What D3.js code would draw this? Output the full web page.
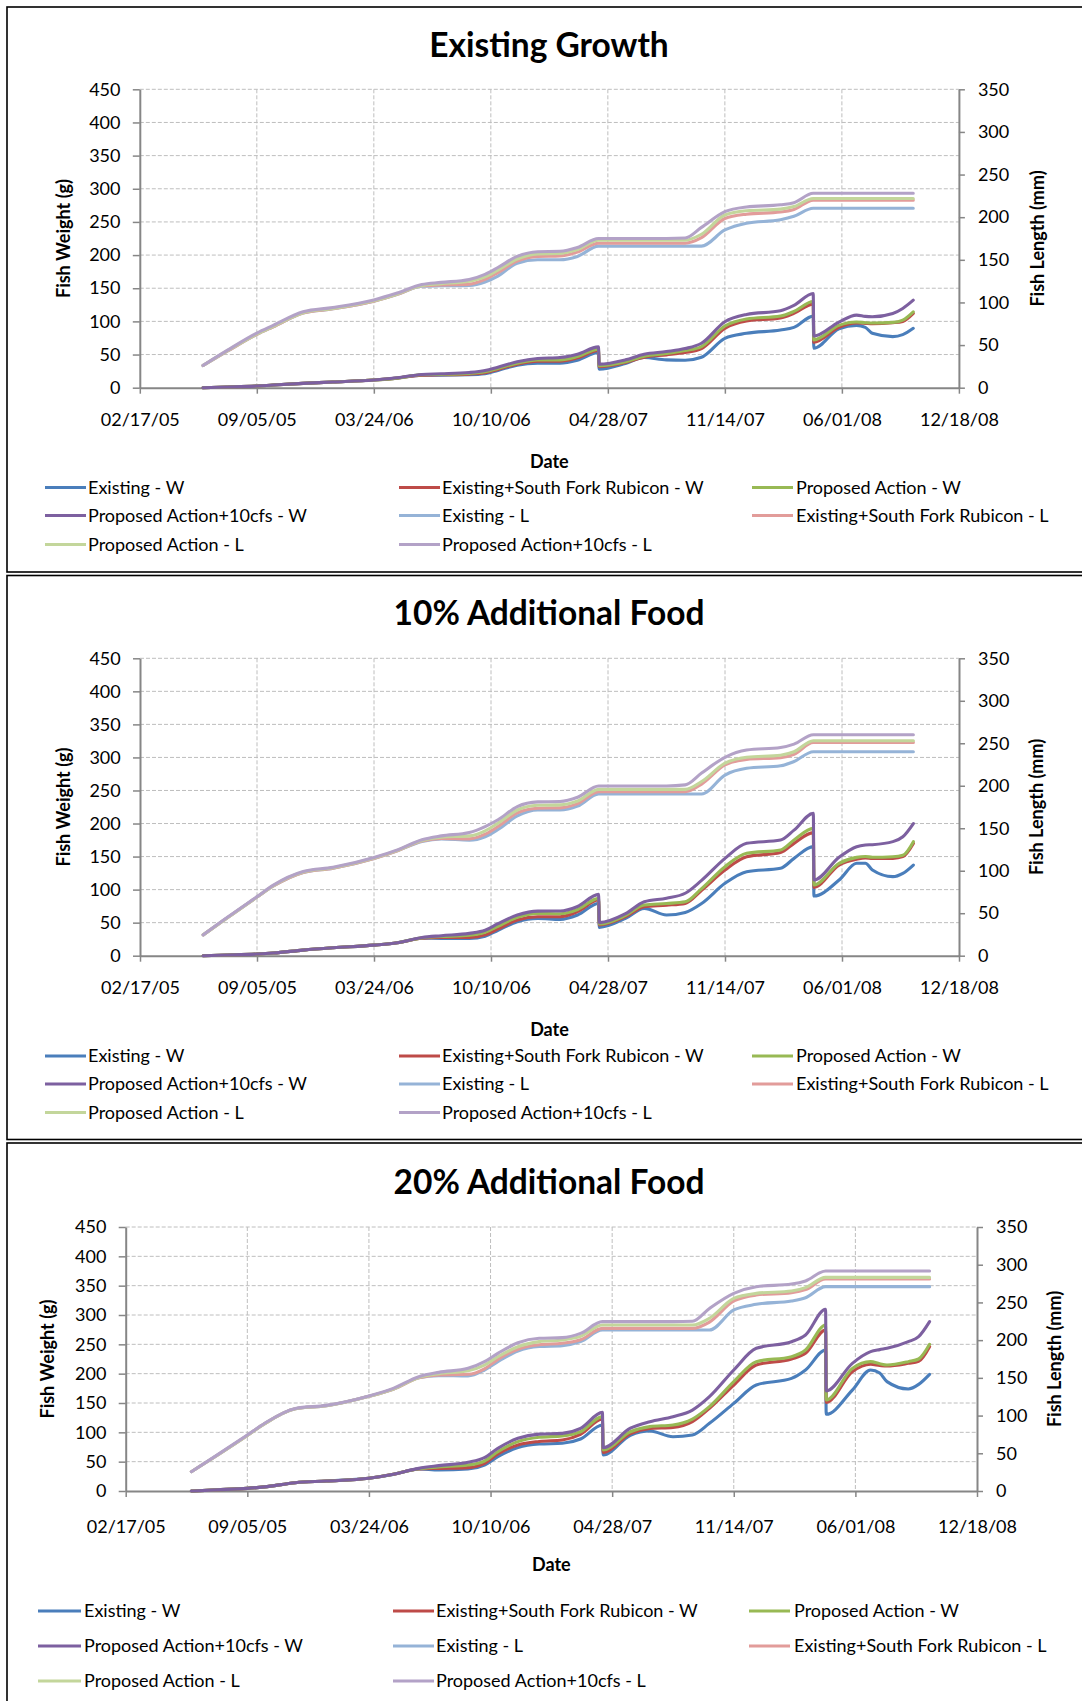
<!DOCTYPE html>
<html><head><meta charset="utf-8">
<script src="https://cdn.jsdelivr.net/npm/d3@7"></script>
<style>
body{margin:0;background:#fff;}
svg{display:block;font-family:Lato,"Open Sans",sans-serif;}
</style>
</head><body>
<svg id="chart" width="1082" height="1701"></svg>
<script>
// ---------------- DATA ----------------
const dates = ["2005-06-05","2005-07-17","2005-09-05","2005-10-03","2005-11-23","2006-01-13","2006-03-24","2006-05-03","2006-06-14","2006-07-17","2006-09-03","2006-09-30","2006-10-22","2006-11-24","2006-12-29","2007-02-05","2007-03-07","2007-04-12","2007-04-13","2007-05-28","2007-06-29","2007-08-06","2007-09-07","2007-10-05","2007-11-14","2007-12-21","2008-02-17","2008-03-11","2008-04-13","2008-04-14","2008-05-27","2008-06-26","2008-07-11","2008-07-23","2008-08-27","2008-09-13","2008-10-01"];

const xTickLabels = ["02/17/05","09/05/05","03/24/06","10/10/06","04/28/07","11/14/07","06/01/08","12/18/08"];
const weightTicks = [0,50,100,150,200,250,300,350,400,450];
const lengthTicks = [0,50,100,150,200,250,300,350];

const panelTitles = ["Existing Growth","10% Additional Food","20% Additional Food"];
const seriesNames = ["Existing - W","Existing+South Fork Rubicon - W","Proposed Action - W","Proposed Action+10cfs - W","Existing - L","Existing+South Fork Rubicon - L","Proposed Action - L","Proposed Action+10cfs - L"];
const seriesColors = ["#4A7EBB","#BE4B48","#98B954","#7D60A0","#95B3D7","#E29C9A","#C3D69B","#B3A2C7"];

// Panel 1: Existing Growth
const growthExistingW = [0,1,2.5,4,6.5,8.5,11.5,14.5,19,19,19.5,21,26,34,37,37,41.5,53,28,36.5,45.5,42,41.5,46,74.5,82,87,91,108,59.5,89,94,91,82,77,80,89.5];
const growthSFRW = [0,1,2.5,4,6.5,8.5,11.5,14.5,19,19.5,20.5,22.5,27.5,35.5,40,40,45,56,31.5,38,46,49.5,53,59,89.5,100.5,105,112,126,68.5,91,97.5,97,96.5,98,100,112];
const growthPAW = [0,1,2.5,4,6.5,8.5,11.5,14.5,19.5,20,21.5,24,29,37,42,42,47,58,33,39,47.5,51.5,56,62,93,103.5,108,115,130,72,94,99,98,97.5,98.5,102,114.5];
const growthPA10W = [0,1,2.5,4,6.5,8.5,11.5,15,20,21,23,26,31,39,44,45.5,50.5,61.5,35.5,42,50.5,54.5,59,67,99.5,110.5,116,124,142,78,99,109.5,107.5,107,112,119.5,132];
const growthExistingL = [26,43,62.5,71.5,87.5,92.5,101.5,109.5,119,119.5,120,124,131,146,150,150,154,166,166,166,166,166,166,166,185,193,197,201,210.5,210.5,210.5,210.5,210.5,210.5,210.5,210.5,210.5];
const growthSFRL = [26,43,62.5,71.5,87.5,92.5,101.5,109.5,119.5,120.5,121.5,127,135,148.5,154,154.5,159,169.5,169.5,169.5,169.5,169.5,169.5,176,198.5,203.5,206,209,220,220,220,220,220,220,220,220,220];
const growthPAL = [26,43.5,63,72,88,93,102,110,120,122,125,130,138,151,157,157.5,162,173,173,173,173,173,173,180,202.5,207.5,209.5,212.5,222,222,222,222,222,222,222,222,222];
const growthPA10L = [26,44,64,73,89,94,103,111,121,123.5,127,133,141,154,159.5,160,164.5,175,175,175,175,175,175.5,188,206.5,212,214.5,217,228,228,228,228,228,228,228,228,228];

// Panel 2: 10% Additional Food
const food10ExistingW = [0,1,2.5,4,8.5,12,16,19.5,26.5,26.2,26.2,29.5,38.5,51.5,56.5,55,61.6,79.2,42.9,56.5,71.6,61.6,65.5,79,109.5,127.1,132.2,147.3,165,90.3,114.5,139.8,140,129.7,119.6,124.6,137.2];
const food10SFRW = [0,1,2.5,4,8.5,12,16,19.5,26.5,27.5,27.7,31.5,40.5,54,59,59,66.6,84.3,46.4,59,74.2,76.5,79.2,99,129.7,149.8,156,170,186.2,103.4,137.2,146,148,147,147.3,150,170];
const food10PAW = [0,1,2.5,4,8.5,12,16,19.7,27,29,31,35.5,44.5,58,64,63.5,70,86.8,47.9,61,76.7,79,81.5,101.5,134.7,154.9,160,175,192.7,107,139.8,148.8,150,149,149.8,152,172.6];
const food10PA10W = [0,1,2.5,4,8.5,12,16,19.7,27.5,30.3,33.8,38.5,48.5,61.5,67.5,67.6,74.5,92.8,50,63.5,81.5,87,94.5,114,147.3,170,175,190,215.4,114.5,149,165,167.5,168,172.6,180,200];
const food10ExistingL = [24.5,45,69,82,98,103,114.5,123.5,134.5,137.5,136,140,148.5,164.5,171.5,171.5,176,190.3,190.3,190.3,190.3,190.3,190.3,190.3,212.6,220.5,223.5,228.5,240,240,240,240,240,240,240,240,240];
const food10SFRL = [24.5,45,69,82,98,103,114.5,123.5,135,138,137.5,143,152,168,173.5,174,179,193,193,193,193,193,193,202,224.5,231,233,237,251,251,251,251,251,251,251,251,251];
const food10PAL = [24.5,45,69,82.5,98.5,103.5,115,124,135.5,139.5,141,147,156,171.5,177,177.5,182,195.8,195.8,195.8,195.8,195.8,195.8,205,226.5,233.5,236,240,253,253,253,253,253,253,253,253,253];
const food10PA10L = [24.5,45.5,69.5,83,99,104,115.5,124.5,136.5,141,145,152,160,175.5,181,181.5,186.5,199.7,199.7,199.7,199.7,199.7,201,215,233.5,242,245,249,260,260,260,260,260,260,260,260,260];

// Panel 3: 20% Additional Food
const food20ExistingW = [0,2,4.5,7,14.2,17,21.6,28,37.5,35.8,37.5,44.3,58.5,73.9,80,81.3,88.6,112.5,61.4,95,102.3,92.6,95.5,115.3,149.4,180.7,192,206.3,240.3,130.7,172,206.3,201,186.4,173.9,181.8,198.9];
const food20SFRW = [0,2,4.5,7,14.2,17,21.6,28.4,37.5,38.5,39.8,47,63,78.4,84.5,87,96.6,122.7,65.9,98,106.8,108.5,118.2,140.9,180.7,214.8,225,234.7,274.4,151,203.4,216,214,213,217.6,221,246];
const food20PAW = [0,2,4.5,7,14.2,17,21.6,28.4,38,41,44.3,51,67,84.1,91.5,93.8,101,126.7,69.9,101,109.7,112.5,122.7,143.8,186.4,220.5,229,240.3,283,155,209,220.5,217,214.8,220.5,225,250];
const food20PA10W = [0,2,4.5,7,14.2,17,21.6,28.4,38.6,43.2,48.9,56.8,72.7,89.8,97,98.3,106.8,134,73.9,107,118.2,126.7,138,160.8,206.3,243.2,254.5,265.9,309.7,170.5,217.6,237.5,241,243.2,254.5,263,288.6];
const food20ExistingL = [25.6,47,73.5,89,109,113,125.5,135,150,153,152.5,160.4,171.5,185.6,191.5,192.7,198,213.4,213.4,213.4,213.4,213.4,213.4,213.4,240,247.5,251.9,256.3,270.9,270.9,270.9,270.9,270.9,270.9,270.9,270.9,270.9];
const food20SFRL = [25.6,47,73.5,89,109,113,125.5,135,150,154,154.7,162,174.5,188,194,195.8,200.5,215.6,215.6,215.6,215.6,215.6,215.6,224,252,259.8,263,267,281,281,281,281,281,281,281,281,281];
const food20PAL = [25.6,47,73.5,89,109,113,125.5,135,150.5,155.5,159.5,167,178,191.3,198,200.2,205,220,220,220,220,220,220,229,255.4,262,265.1,269.6,283.2,283.2,283.2,283.2,283.2,283.2,283.2,283.2,283.2];
const food20PA10L = [25.6,47.5,74.2,89.5,109.5,113.5,126,136,151.6,157.3,162.6,171.5,182.5,196.6,202.5,203.3,209,224.5,224.5,224.5,224.5,224.5,225,242,262,270.9,274.4,278.5,291.6,291.6,291.6,291.6,291.6,291.6,291.6,291.6,291.6];

const panelSeries = [
  [growthExistingW,growthSFRW,growthPAW,growthPA10W,growthExistingL,growthSFRL,growthPAL,growthPA10L],
  [food10ExistingW,food10SFRW,food10PAW,food10PA10W,food10ExistingL,food10SFRL,food10PAL,food10PA10L],
  [food20ExistingW,food20SFRW,food20PAW,food20PA10W,food20ExistingL,food20SFRL,food20PAL,food20PA10L]
];

// ---------------- LAYOUT ----------------
const layouts = [
  {boxTop:7, boxBottom:572, left:139.8, right:958.9, top:89.3, bottom:387.7, titleY:57, tickLabelDy:32.5, dateDy:73.5,
   wTitleX:64, lTitleX:1038, legendRows:[487.5,515.5,544.5], legendCols:[[45,86,88],[399,440,442],[752,793,796]]},
  {boxTop:575.5, boxBottom:1139.5, left:140, right:959, top:658.3, bottom:955.7, titleY:625, tickLabelDy:32.5, dateDy:73.5,
   wTitleX:64, lTitleX:1037, legendRows:[1056,1084,1112.5], legendCols:[[45,86,88],[399,440,442],[752,793,796]]},
  {boxTop:1143, boxBottom:1760, left:125.7, right:977, top:1227, bottom:1491, titleY:1194, tickLabelDy:35.7, dateDy:74,
   wTitleX:48, lTitleX:1055, legendRows:[1611,1646,1681], legendCols:[[38,81,84],[393,434,436],[749,790,794]]}
];

const svg = d3.select("#chart");
const parseDate = d3.timeParse("%Y-%m-%d");
const parseTick = d3.timeParse("%m/%d/%y");
const dateObjs = dates.map(parseDate);
const tickDates = xTickLabels.map(parseTick);
const axisColor = "#868686";
const gridColor = "#BEBEBE";

layouts.forEach((p, pi) => {
  const g = svg.append("g");
  g.append("rect").attr("x",7).attr("y",p.boxTop).attr("width",1200).attr("height",p.boxBottom-p.boxTop)
    .attr("fill","none").attr("stroke","#000").attr("stroke-width",1.6);

  const x = d3.scaleTime().domain([tickDates[0], tickDates[tickDates.length-1]]).range([p.left, p.right]);
  const yW = d3.scaleLinear().domain([0,450]).range([p.bottom, p.top]);
  const yL = d3.scaleLinear().domain([0,350]).range([p.bottom, p.top]);
  const cx = (p.left + p.right)/2;

  // title
  g.append("text").attr("x", 549).attr("y", p.titleY).attr("text-anchor","middle")
    .attr("font-size", 33.5).attr("font-weight","bold").text(panelTitles[pi]);

  // gridlines
  g.append("g").selectAll("line").data(weightTicks.slice(1)).join("line")
    .attr("x1", p.left).attr("x2", p.right).attr("y1", d=>yW(d)).attr("y2", d=>yW(d))
    .attr("stroke", gridColor).attr("stroke-width",1).attr("stroke-dasharray","4,2");
  g.append("g").selectAll("line").data(tickDates.slice(1, -1)).join("line")
    .attr("x1", d=>x(d)).attr("x2", d=>x(d)).attr("y1", p.top).attr("y2", p.bottom)
    .attr("stroke", gridColor).attr("stroke-width",1).attr("stroke-dasharray","4,2");

  // axes
  const styleAxis = sel => {
    sel.select(".domain").attr("stroke", axisColor).attr("stroke-width", 2);
    sel.selectAll(".tick line").attr("stroke", axisColor).attr("stroke-width", 1.5);
    sel.selectAll(".tick text").attr("fill","#000").attr("font-size",18).attr("font-family","Lato, 'Open Sans', sans-serif");
  };
  const axL = g.append("g").attr("transform",`translate(${p.left},0)`)
    .call(d3.axisLeft(yW).tickValues(weightTicks).tickSize(7).tickSizeOuter(0).tickPadding(12.3));
  styleAxis(axL);
  const axR = g.append("g").attr("transform",`translate(${p.right},0)`)
    .call(d3.axisRight(yL).tickValues(lengthTicks).tickSize(6).tickSizeOuter(0).tickPadding(13));
  styleAxis(axR);
  const axB = g.append("g").attr("transform",`translate(0,${p.bottom})`)
    .call(d3.axisBottom(x).tickValues(tickDates).tickFormat(d3.timeFormat("%m/%d/%y")).tickSize(6).tickSizeOuter(0));
  styleAxis(axB);
  axB.selectAll(".tick text").attr("y", p.tickLabelDy).attr("dy","0.35em");

  // axis titles
  g.append("text").attr("x", cx).attr("y", p.bottom + p.dateDy).attr("dy","0.35em").attr("text-anchor","middle")
    .attr("font-size",18).attr("font-weight","bold").text("Date");
  const cy = (p.top + p.bottom)/2;
  g.append("text").attr("transform",`translate(${p.wTitleX},${cy}) rotate(-90)`).attr("dy","0.35em")
    .attr("text-anchor","middle").attr("font-size",18).attr("font-weight","bold").text("Fish Weight (g)");
  g.append("text").attr("transform",`translate(${p.lTitleX},${cy}) rotate(-90)`).attr("dy","0.35em")
    .attr("text-anchor","middle").attr("font-size",18).attr("font-weight","bold").text("Fish Length (mm)");

  // series
  const series = panelSeries[pi];
  series.forEach((vals, si) => {
    const y = si < 4 ? yW : yL;
    const line = d3.line().x((d,i)=>x(dateObjs[i])).y(d=>y(d)).curve(d3.curveMonotoneX);
    g.append("path").attr("d", line(vals)).attr("fill","none").attr("stroke", seriesColors[si])
      .attr("stroke-width", 3.1).attr("stroke-linejoin","round").attr("stroke-linecap","round");
  });

  // legend
  seriesNames.forEach((name, si) => {
    const row = Math.floor(si/3), col = si%3;
    const ly = p.legendRows[row], c = p.legendCols[col];
    g.append("line").attr("x1", c[0]).attr("x2", c[1]).attr("y1", ly).attr("y2", ly)
      .attr("stroke", seriesColors[si]).attr("stroke-width", 3);
    g.append("text").attr("x", c[2]).attr("y", ly).attr("dy","0.35em").attr("font-size",18).text(name);
  });
});
</script>
</body></html>
